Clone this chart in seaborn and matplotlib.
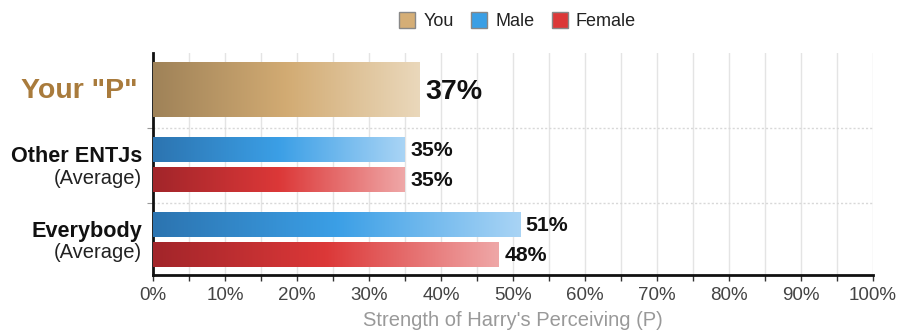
import numpy as np
import pandas as pd
import matplotlib
matplotlib.use("Agg")
import matplotlib.pyplot as plt
import seaborn as sns
from matplotlib.colors import LinearSegmentedColormap
from matplotlib.lines import Line2D
from matplotlib.ticker import MultipleLocator, FuncFormatter
from matplotlib.transforms import blended_transform_factory

# --- data ---------------------------------------------------------------
rows = ["You", "Other ENTJs Male", "Other ENTJs Female", "Everybody Male", "Everybody Female"]
series = ["You", "Male", "Female", "Male", "Female"]
values = [37, 35, 35, 51, 48]
value_labels = ["37%", "35%", "35%", "51%", "48%"]
legend_names = ["You", "Male", "Female"]
x_label = "Strength of Harry's Perceiving (P)"

# --- layout (vertical slots, axis units from the top) -------------------
centers = [37.5, 97.0, 127.5, 172.0, 202.5]
thickness = [55.0, 25.0, 25.0, 25.0, 25.0]
separators = [75.0, 150.5]
y_span = 222.5

gradients = {
    "You": ["#9f8258", "#d2ab73", "#ead8bb"],
    "Male": ["#2c74b0", "#3b9fe6", "#a9d4f5"],
    "Female": ["#a2252a", "#dc3838", "#efa7a7"],
}
swatch = {"You": "#d5ae76", "Male": "#3a9fe5", "Female": "#dc3838"}

plt.rcParams["font.family"] = ["Liberation Sans", "DejaVu Sans"]

fig = plt.figure(figsize=(8.99, 3.33), dpi=100)
ax = fig.add_axes([153 / 899, 1 - 275 / 333, 720 / 899, y_span / 333])

df = pd.DataFrame({"row": rows, "series": series, "value": values, "pos": centers})
sns.barplot(data=df, x="value", y="pos", orient="h", native_scale=True,
            color="white", ax=ax, zorder=3)

bars = sorted([p for p in ax.patches], key=lambda p: p.get_y())
for p, c, h, s in zip(bars, centers, thickness, series):
    p.set_y(c - h / 2)
    p.set_height(h)
    p.set_facecolor("none")
    p.set_edgecolor("none")
    w = p.get_width()
    cmap = LinearSegmentedColormap.from_list(s, gradients[s])
    grad = np.linspace(0, 1, 256).reshape(1, -1)
    ax.imshow(grad, cmap=cmap, aspect="auto", extent=(0, w, c + h / 2, c - h / 2),
              zorder=3, interpolation="bicubic")

# value labels
for v, c, lab, s in zip(values, centers, value_labels, series):
    big = s == "You"
    ax.annotate(lab, xy=(v, c), xytext=(4.5 if big else 4, -1.5 if big else -0.5),
                textcoords="offset points",
                ha="left", va="center", fontsize=20.5 if big else 15.3,
                fontweight="bold", color="#111111", zorder=4)

ax.set_xlim(0, 100)
ax.set_ylim(y_span, 0)

# grid, ticks
ax.xaxis.set_major_locator(MultipleLocator(10))
ax.xaxis.set_minor_locator(MultipleLocator(5))
ax.xaxis.set_major_formatter(FuncFormatter(lambda x, _: f"{x:.0f}%"))
ax.grid(axis="x", which="both", color="#e4e4e4", linewidth=1, zorder=0)
ax.set_axisbelow(True)
ax.tick_params(axis="x", which="both", length=4, width=1, color="#333333",
               labelsize=13.5, labelcolor="#444444", pad=5)
ax.set_yticks(separators)
ax.set_yticklabels([])
ax.tick_params(axis="y", length=4, color="#999999")
for y in separators:
    ax.axhline(y, color="#d8d8d8", linestyle=(0, (1.5, 1.5)), linewidth=1, zorder=1)

for side in ["top", "right"]:
    ax.spines[side].set_visible(False)
ax.spines["left"].set_color("#111111")
ax.spines["left"].set_linewidth(2)
ax.spines["bottom"].set_color("#111111")
ax.spines["bottom"].set_linewidth(2)

ax.set_xlabel(x_label, fontsize=14.5, color="#999999", labelpad=5)
ax.set_ylabel("")

# category labels
tr = blended_transform_factory(ax.transAxes, ax.transData)
ax.annotate('Your "P"', xy=(0, centers[0]), xycoords=tr, xytext=(-11, -1),
            textcoords="offset points", ha="right", va="center",
            fontsize=20.5, fontweight="bold", color="#a97b3c")
for top_c, bot_c, name in [(centers[1], centers[2], "Other ENTJs"),
                           (centers[3], centers[4], "Everybody")]:
    ax.annotate(name, xy=(0, top_c + 7), xycoords=tr, xytext=(-8, 0),
                textcoords="offset points", ha="right", va="center",
                fontsize=15.6, fontweight="bold", color="#111111")
    ax.annotate("(Average)", xy=(0, bot_c - 2), xycoords=tr, xytext=(-8, 0),
                textcoords="offset points", ha="right", va="center",
                fontsize=14.5, color="#222222")

# legend
handles = [Line2D([0], [0], marker="s", linestyle="none", markersize=11,
                  markerfacecolor=swatch[n], markeredgecolor="#888888", markeredgewidth=1)
           for n in legend_names]
fig.legend(handles, legend_names, loc="center", bbox_to_anchor=(0.575, 0.935), ncol=3,
           frameon=False, fontsize=13, handlelength=1.0, handletextpad=0.4,
           columnspacing=0.9, labelcolor="#222222")

fig.savefig("out.png", dpi=100, facecolor="white")
